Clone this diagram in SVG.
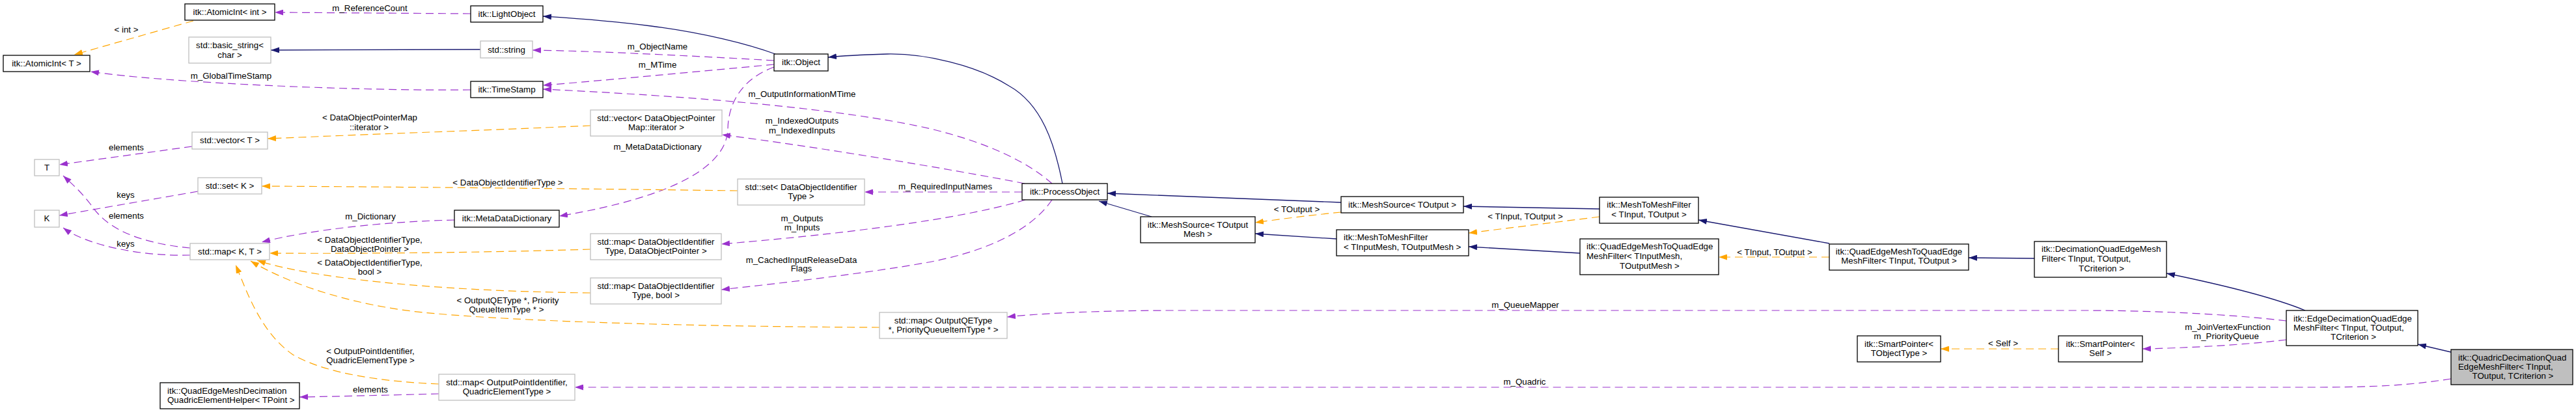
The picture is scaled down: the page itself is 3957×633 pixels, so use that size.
<svg xmlns="http://www.w3.org/2000/svg" width="3957" height="633" viewBox="0 0 3957 633">
<style>
text{font-family:"Liberation Sans",Arial,Helvetica,sans-serif;font-size:13.3px;fill:#000}
.m{text-anchor:middle}
.s{text-anchor:start}
.nb rect{fill:#fff;stroke:#000;stroke-width:1.3}
.ng rect{fill:#fff;stroke:#bfbfbf;stroke-width:1.3}
.main rect{fill:#bfbfbf;stroke:#000;stroke-width:1.3}
.u{fill:none;stroke:#9a32cd;stroke-width:1.2;stroke-dasharray:12,7;marker-end:url(#ap)}
.t{fill:none;stroke:#ffa500;stroke-width:1.2;stroke-dasharray:12,7;marker-end:url(#ao)}
.i{fill:none;stroke:#191970;stroke-width:1.3;marker-end:url(#ab)}
</style>
<defs>
<marker id="ap" markerUnits="userSpaceOnUse" markerWidth="13" markerHeight="9" refX="13" refY="4.5" orient="auto"><path d="M0,0 L13,4.5 L0,9 z" fill="#9a32cd"/></marker>
<marker id="ao" markerUnits="userSpaceOnUse" markerWidth="13" markerHeight="9" refX="13" refY="4.5" orient="auto"><path d="M0,0 L13,4.5 L0,9 z" fill="#ffa500"/></marker>
<marker id="ab" markerUnits="userSpaceOnUse" markerWidth="13" markerHeight="9" refX="13" refY="4.5" orient="auto"><path d="M0,0 L13,4.5 L0,9 z" fill="#191970"/></marker>
</defs>
<rect x="0" y="0" width="3957" height="633" fill="#fff"/>
<g id="connectors">
<path class="u" d="M723,21 L422,19"/>
<text class="m" x="568" y="17">m_ReferenceCount</text>
<path class="u" d="M723,138 C560,140 260,128 139,110"/>
<text class="m" x="355" y="121">m_GlobalTimeStamp</text>
<path class="t" d="M297,32 L114,84"/>
<text class="m" x="194" y="50">&lt; int &gt;</text>
<path class="i" d="M738,76 L416,77"/>
<path class="u" d="M1189,93 C1050,85 900,78 818,77"/>
<text class="m" x="1010" y="76">m_ObjectName</text>
<path class="u" d="M1189,99 C1050,112 900,126 834,131"/>
<text class="m" x="1010" y="104">m_MTime</text>
<path class="u" d="M1616,282 C1580,250 1520,220 1430,198 C1330,175 1150,152 834,137"/>
<text class="m" x="1232" y="149">m_OutputInformationMTime</text>
<path class="u" d="M1574,282 C1450,258 1250,225 1109,207"/>
<text class="m" x="1232" y="190">m_IndexedOutputs</text>
<text class="m" x="1232" y="205">m_IndexedInputs</text>
<path class="u" d="M1570,295 L1328,295"/>
<text class="m" x="1452" y="291">m_RequiredInputNames</text>
<path class="u" d="M1575,307 C1500,330 1350,355 1108,375"/>
<text class="m" x="1232" y="340">m_Outputs</text>
<text class="m" x="1232" y="354">m_Inputs</text>
<path class="u" d="M1616,307 C1580,360 1500,390 1420,404 C1330,420 1200,435 1108,445"/>
<text class="m" x="1231" y="404">m_CachedInputReleaseData</text>
<text class="m" x="1231" y="417">Flags</text>
<path class="u" d="M1189,103 C1130,125 1118,170 1118,200 C1115,250 1050,300 859,332"/>
<text class="m" x="1010" y="230">m_MetaDataDictionary</text>
<path class="u" d="M698,338 C600,340 480,352 402,372"/>
<text class="m" x="569" y="337">m_Dictionary</text>
<path class="u" d="M3512,493 C3420,482 3300,477 3200,477 L1800,477 C1700,477 1600,481 1547,487"/>
<text class="m" x="2343" y="473">m_QueueMapper</text>
<path class="u" d="M3512,522 C3450,530 3350,535 3291,536"/>
<text class="m" x="3422" y="507">m_JoinVertexFunction</text>
<text class="m" x="3420" y="521">m_PriorityQueue</text>
<path class="u" d="M3765,582 C3700,592 3650,595 3550,595 L883,595"/>
<text class="m" x="2342" y="591">m_Quadric</text>
<path class="u" d="M674,605 C600,607 520,609 460,610"/>
<text class="m" x="569" y="603">elements</text>
<path class="u" d="M295,225 L91,253"/>
<text class="m" x="194" y="231">elements</text>
<path class="u" d="M304,294 L91,331"/>
<text class="m" x="193" y="304">keys</text>
<path class="u" d="M292,381 C200,372 160,345 140,315 C125,295 110,282 97,270"/>
<text class="m" x="194" y="336">elements</text>
<path class="u" d="M292,392 C220,394 135,378 97,350"/>
<text class="m" x="193" y="379">keys</text>
<path class="t" d="M907,193 C800,198 600,205 411,213"/>
<text class="m" x="568" y="185">&lt; DataObjectPointerMap</text>
<text class="m" x="567" y="200">::iterator &gt;</text>
<path class="t" d="M1133,293 C900,290 600,287 402,286"/>
<text class="m" x="780" y="285">&lt; DataObjectIdentifierType &gt;</text>
<path class="t" d="M907,383 C750,388 550,390 414,389"/>
<text class="m" x="568" y="373">&lt; DataObjectIdentifierType,</text>
<text class="m" x="568" y="387">DataObjectPointer &gt;</text>
<path class="t" d="M907,450 C650,447 470,425 395,400"/>
<text class="m" x="568" y="408">&lt; DataObjectIdentifierType,</text>
<text class="m" x="568" y="422">bool &gt;</text>
<path class="t" d="M1351,503 C1100,502 800,495 650,480 C550,470 450,440 385,401"/>
<text class="m" x="780" y="466">&lt; OutputQEType *, Priority</text>
<text class="m" x="778" y="480">QueueItemType * &gt;</text>
<path class="t" d="M674,590 C560,585 490,568 450,545 C400,510 380,450 362,407"/>
<text class="m" x="569" y="544">&lt; OutputPointIdentifier,</text>
<text class="m" x="569" y="558">QuadricElementType &gt;</text>
<path class="t" d="M2060,326 C2020,330 1970,336 1928,342"/>
<text class="m" x="1992" y="326">&lt; TOutput &gt;</text>
<path class="t" d="M2457,333 L2256,358"/>
<text class="m" x="2343" y="337">&lt; TInput, TOutput &gt;</text>
<path class="t" d="M2810,395 L2640,395"/>
<text class="m" x="2726" y="392">&lt; TInput, TOutput &gt;</text>
<path class="t" d="M3162,536 L2981,536"/>
<text class="m" x="3077" y="532">&lt; Self &gt;</text>
<path class="i" d="M1191,83 C1150,68 1080,50 1000,40 C930,31 880,28 834,25"/>
<path class="i" d="M1632,282 C1620,220 1600,160 1550,132 C1500,100 1420,82 1363,83 C1330,84 1300,85 1272,88"/>
<path class="i" d="M2060,311 L1701,297"/>
<path class="i" d="M1769,333 L1688,309"/>
<path class="i" d="M2457,321 L2248,317"/>
<path class="i" d="M2053,367 L1928,359"/>
<path class="i" d="M2427,389 L2256,379"/>
<path class="i" d="M2810,374 L2609,338"/>
<path class="i" d="M3125,397 L3024,396"/>
<path class="i" d="M3541,477 C3500,460 3440,443 3328,420"/>
<path class="i" d="M3765,541 L3714,529"/>
</g>
<g id="n_atomicint_int" class="nb"><rect x="284" y="6" width="138" height="25"/><text class="m" x="353" y="23">itk::AtomicInt&lt; int &gt;</text></g>
<g id="n_atomicint_T" class="nb"><rect x="5" y="85" width="133" height="25"/><text class="m" x="71.5" y="102">itk::AtomicInt&lt; T &gt;</text></g>
<g id="n_basic_string" class="ng"><rect x="290" y="57" width="126" height="40"/><text class="m" x="353" y="74">std::basic_string&lt;</text><text class="m" x="353" y="89">char &gt;</text></g>
<g id="n_vector_T" class="ng"><rect x="295" y="203" width="116" height="26"/><text class="m" x="353" y="220">std::vector&lt; T &gt;</text></g>
<g id="n_T" class="ng"><rect x="53" y="245" width="38" height="25"/><text class="m" x="72" y="262">T</text></g>
<g id="n_set_K" class="ng"><rect x="304" y="273" width="98" height="25"/><text class="m" x="353" y="290">std::set&lt; K &gt;</text></g>
<g id="n_K" class="ng"><rect x="53" y="323" width="38" height="26"/><text class="m" x="72" y="340">K</text></g>
<g id="n_map_KT" class="ng"><rect x="292" y="374" width="122" height="25"/><text class="m" x="353" y="391">std::map&lt; K, T &gt;</text></g>
<g id="n_qem_decimation_helper" class="nb"><rect x="246" y="588" width="214" height="40"/><text class="s" x="257" y="605">itk::QuadEdgeMeshDecimation</text><text class="s" x="257" y="619">QuadricElementHelper&lt; TPoint &gt;</text></g>
<g id="n_lightobject" class="nb"><rect x="723" y="9" width="111" height="25"/><text class="m" x="778.5" y="26">itk::LightObject</text></g>
<g id="n_string" class="ng"><rect x="738" y="63" width="80" height="26"/><text class="m" x="778" y="81">std::string</text></g>
<g id="n_timestamp" class="nb"><rect x="723" y="125" width="111" height="25"/><text class="m" x="778.5" y="142">itk::TimeStamp</text></g>
<g id="n_metadatadictionary" class="nb"><rect x="698" y="323" width="161" height="26"/><text class="m" x="778.5" y="340">itk::MetaDataDictionary</text></g>
<g id="n_map_opi" class="ng"><rect x="674" y="575" width="209" height="40"/><text class="m" x="778.5" y="592">std::map&lt; OutputPointIdentifier,</text><text class="m" x="778.5" y="606">QuadricElementType &gt;</text></g>
<g id="n_object" class="nb"><rect x="1189" y="83" width="83" height="26"/><text class="m" x="1230.5" y="100">itk::Object</text></g>
<g id="n_vector_dop" class="ng"><rect x="907" y="169" width="202" height="40"/><text class="m" x="1008" y="186">std::vector&lt; DataObjectPointer</text><text class="m" x="1008" y="200">Map::iterator &gt;</text></g>
<g id="n_map_doi_dop" class="ng"><rect x="907" y="359" width="201" height="40"/><text class="m" x="1007.5" y="376">std::map&lt; DataObjectIdentifier</text><text class="m" x="1007.5" y="390">Type, DataObjectPointer &gt;</text></g>
<g id="n_map_doi_bool" class="ng"><rect x="907" y="427" width="201" height="40"/><text class="m" x="1007.5" y="444">std::map&lt; DataObjectIdentifier</text><text class="m" x="1007.5" y="458">Type, bool &gt;</text></g>
<g id="n_set_doi" class="ng"><rect x="1133" y="275" width="195" height="40"/><text class="m" x="1230.5" y="292">std::set&lt; DataObjectIdentifier</text><text class="m" x="1230.5" y="306">Type &gt;</text></g>
<g id="n_processobject" class="nb"><rect x="1570" y="282" width="131" height="25"/><text class="m" x="1635.5" y="299">itk::ProcessObject</text></g>
<g id="n_map_oqe" class="ng"><rect x="1351" y="480" width="196" height="40"/><text class="m" x="1449" y="497">std::map&lt; OutputQEType</text><text class="m" x="1449" y="511"> *, PriorityQueueItemType * &gt;</text></g>
<g id="n_meshsource_toutputmesh" class="nb"><rect x="1752" y="333" width="176" height="40"/><text class="m" x="1840" y="350">itk::MeshSource&lt; TOutput</text><text class="m" x="1840" y="364">Mesh &gt;</text></g>
<g id="n_meshsource_toutput" class="nb"><rect x="2060" y="302" width="188" height="25"/><text class="m" x="2154" y="319">itk::MeshSource&lt; TOutput &gt;</text></g>
<g id="n_m2m_tinputmesh" class="nb"><rect x="2053" y="353" width="203" height="40"/><text class="s" x="2064" y="369">itk::MeshToMeshFilter</text><text class="s" x="2064" y="384">&lt; TInputMesh, TOutputMesh &gt;</text></g>
<g id="n_m2m_tinput" class="nb"><rect x="2457" y="303" width="152" height="40"/><text class="m" x="2533" y="319">itk::MeshToMeshFilter</text><text class="m" x="2533" y="334">&lt; TInput, TOutput &gt;</text></g>
<g id="n_qe2qe_tinputmesh" class="nb"><rect x="2427" y="367" width="213" height="55"/><text class="s" x="2437" y="383">itk::QuadEdgeMeshToQuadEdge</text><text class="s" x="2437" y="398">MeshFilter&lt; TInputMesh,</text><text class="m" x="2534" y="413">TOutputMesh &gt;</text></g>
<g id="n_qe2qe_tinput" class="nb"><rect x="2810" y="375" width="214" height="40"/><text class="m" x="2917" y="391">itk::QuadEdgeMeshToQuadEdge</text><text class="m" x="2917" y="405">MeshFilter&lt; TInput, TOutput &gt;</text></g>
<g id="n_smartpointer_tobjecttype" class="nb"><rect x="2853" y="516" width="128" height="40"/><text class="m" x="2917" y="533">itk::SmartPointer&lt;</text><text class="m" x="2917" y="547">TObjectType &gt;</text></g>
<g id="n_decimation" class="nb"><rect x="3125" y="371" width="203" height="55"/><text class="s" x="3136" y="387">itk::DecimationQuadEdgeMesh</text><text class="s" x="3136" y="402">Filter&lt; TInput, TOutput,</text><text class="m" x="3228" y="417">TCriterion &gt;</text></g>
<g id="n_smartpointer_self" class="nb"><rect x="3162" y="516" width="129" height="40"/><text class="m" x="3226.5" y="533">itk::SmartPointer&lt;</text><text class="m" x="3226.5" y="547">Self &gt;</text></g>
<g id="n_edgedecimation" class="nb"><rect x="3512" y="477" width="202" height="54"/><text class="s" x="3523" y="494">itk::EdgeDecimationQuadEdge</text><text class="s" x="3523" y="508">MeshFilter&lt; TInput, TOutput,</text><text class="m" x="3615" y="522">TCriterion &gt;</text></g>
<g id="n_quadricdecimation" class="main"><rect x="3765" y="537" width="187" height="54"/><text class="s" x="3776" y="554">itk::QuadricDecimationQuad</text><text class="s" x="3776" y="568">EdgeMeshFilter&lt; TInput,</text><text class="m" x="3860" y="582">TOutput, TCriterion &gt;</text></g>
</svg>
